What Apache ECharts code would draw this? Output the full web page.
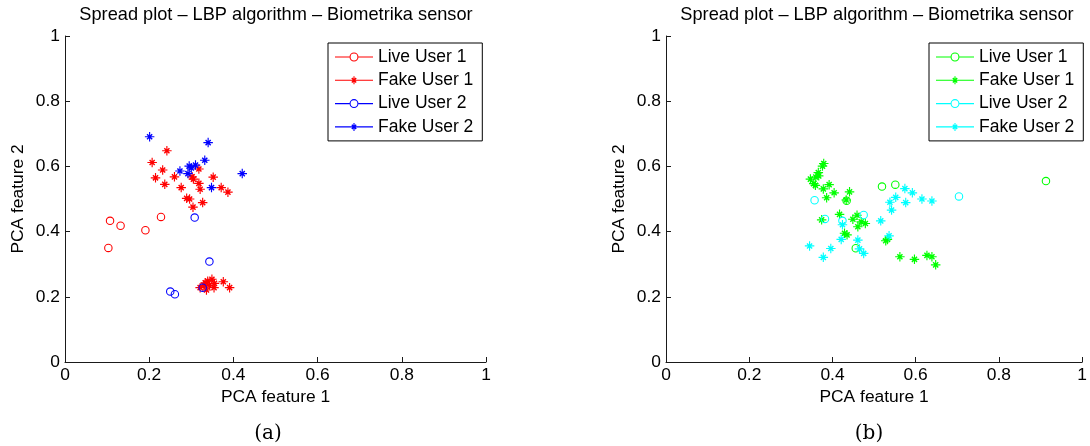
<!DOCTYPE html>
<html><head><meta charset="utf-8">
<script src="https://cdn.jsdelivr.net/npm/echarts@6/dist/echarts.min.js"></script>
<style>html,body{margin:0;padding:0;background:#fff}#c{width:1090px;height:446px}</style>
</head><body><div id="c"></div>
<script>
// ---------- data ----------
const titleText = 'Spread plot \u2013 LBP algorithm \u2013 Biometrika sensor';
const xAxisName = 'PCA feature 1';
const yAxisName = 'PCA feature 2';
const captions = ['(a)', '(b)'];
const seriesNames = ['Live User 1', 'Fake User 1', 'Live User 2', 'Fake User 2'];

// panel (a)
const liveUser1A = [[0.107,0.433],[0.132,0.418],[0.191,0.404],[0.228,0.445],[0.103,0.350]];
const fakeUser1A = [[0.242,0.648],[0.207,0.612],[0.232,0.589],[0.215,0.565],[0.237,0.545],[0.260,0.568],[0.276,0.535],[0.302,0.568],[0.305,0.561],[0.318,0.592],[0.318,0.548],[0.321,0.530],[0.352,0.567],[0.371,0.535],[0.387,0.521],[0.289,0.502],[0.296,0.500],[0.304,0.475],[0.327,0.489],
  [0.333,0.243],[0.339,0.248],[0.349,0.254],[0.355,0.241],[0.321,0.228],[0.336,0.221],[0.354,0.228],[0.376,0.246],[0.391,0.228],[0.330,0.235],[0.343,0.236]];
const liveUser2A = [[0.308,0.443],[0.343,0.308],[0.250,0.216],[0.261,0.208],[0.327,0.228]];
const fakeUser2A = [[0.201,0.691],[0.340,0.673],[0.332,0.619],[0.421,0.578],[0.273,0.586],[0.295,0.601],[0.310,0.604],[0.292,0.578],[0.348,0.535],[0.300,0.595]];

// panel (b)
const liveUser1B = [[0.519,0.538],[0.551,0.544],[0.456,0.349],[0.434,0.495],[0.913,0.555]];
const fakeUser1B = [[0.379,0.609],[0.376,0.601],[0.366,0.581],[0.367,0.571],[0.347,0.561],[0.360,0.567],[0.355,0.547],[0.359,0.542],[0.392,0.544],[0.378,0.531],[0.386,0.504],[0.404,0.519],[0.441,0.522],[0.433,0.497],[0.417,0.453],[0.374,0.436],[0.449,0.438],[0.459,0.450],[0.461,0.415],[0.469,0.430],[0.479,0.425],[0.429,0.395],[0.435,0.390],[0.532,0.376],[0.528,0.372],[0.562,0.323],[0.597,0.315],[0.627,0.327],[0.639,0.323],[0.648,0.298]];
const liveUser2B = [[0.357,0.496],[0.382,0.439],[0.424,0.433],[0.475,0.451],[0.704,0.508]];
const fakeUser2B = [[0.345,0.356],[0.378,0.321],[0.396,0.348],[0.421,0.376],[0.424,0.421],[0.461,0.374],[0.465,0.347],[0.475,0.333],[0.516,0.433],[0.536,0.387],[0.542,0.466],[0.538,0.490],[0.552,0.505],[0.576,0.489],[0.574,0.532],[0.592,0.519],[0.615,0.500],[0.639,0.494]];

const colorsA = ['#ff0000', '#ff0000', '#0000ff', '#0000ff'];
const colorsB = ['#00ff00', '#00ff00', '#00ffff', '#00ffff'];

// ---------- styles ----------
const FONT = 'Liberation Sans';
function starPath(cx, cy, r, rd, t, td) {
  const o = td / Math.SQRT2;
  const f = v => v.toFixed(3);
  let p = `M${f(cx-t)} ${f(cy-r)}H${f(cx+t)}V${f(cy+r)}H${f(cx-t)}Z`;
  p += `M${f(cx-r)} ${f(cy-t)}H${f(cx+r)}V${f(cy+t)}H${f(cx-r)}Z`;
  let ax = cx-rd, ay = cy-rd, bx = cx+rd, by = cy+rd;
  p += `M${f(ax+o)} ${f(ay-o)}L${f(bx+o)} ${f(by-o)}L${f(bx-o)} ${f(by+o)}L${f(ax-o)} ${f(ay+o)}Z`;
  ax = cx+rd; ay = cy-rd; bx = cx-rd; by = cy+rd;
  p += `M${f(ax+o)} ${f(ay+o)}L${f(bx+o)} ${f(by+o)}L${f(bx-o)} ${f(by-o)}L${f(ax-o)} ${f(ay-o)}Z`;
  return p;
}
function ringPath(cx, cy, r, ri) {
  return `M${cx-r} ${cy}A${r} ${r} 0 1 0 ${cx+r} ${cy}A${r} ${r} 0 1 0 ${cx-r} ${cy}Z` +
         `M${cx-ri} ${cy}A${ri} ${ri} 0 1 1 ${cx+ri} ${cy}A${ri} ${ri} 0 1 1 ${cx-ri} ${cy}Z`;
}
const circleSymbol = 'path://' + ringPath(5, 5, 5, 3.75);
const starSymbol = 'path://' + starPath(5, 5, 5, 2.7, 0.6, 0.75);
const circleLegend = 'path://M0 4.45H14.5V5.55H0Z M23.5 4.45H38V5.55H23.5Z ' + ringPath(19, 5, 4.5, 3.4);
const starLegend = 'path://M0 4.45H38V5.55H0Z ' + starPath(19, 5, 4, 2.2, 0.55, 0.7);

function axis(gridIndex, isX) {
  return {
    type: 'value', gridIndex, min: 0, max: 1, interval: 0.2,
    name: isX ? xAxisName : yAxisName,
    nameLocation: 'middle', nameGap: isX ? 27 : 38, nameRotate: isX ? 0 : 90,
    nameTextStyle: { fontFamily: FONT, fontSize: 17.4, color: '#000' },
    axisLine: { show: true, onZero: false, lineStyle: { color: '#1a1a1a', width: 1 } },
    axisTick: { show: true, inside: true, length: 5, lineStyle: { color: '#1a1a1a', width: 1 } },
    axisLabel: { color: '#000', fontFamily: FONT, fontSize: 17.4, margin: 5, showMinLabel: true, showMaxLabel: true },
    splitLine: { show: false }
  };
}

const panels = [
  { data: [liveUser1A, fakeUser1A, liveUser2A, fakeUser2A], colors: colorsA, suffix: '' },
  { data: [liveUser1B, fakeUser1B, liveUser2B, fakeUser2B], colors: colorsB, suffix: ' (b)' }
];
const gridLefts = [65, 666];
const PW = 421;

const series = [];
panels.forEach((p, gi) => {
  p.data.forEach((d, si) => {
    series.push({
      type: 'scatter', name: seriesNames[si] + p.suffix,
      xAxisIndex: gi, yAxisIndex: gi,
      symbol: si % 2 ? starSymbol : circleSymbol,
      symbolSize: si % 2 ? 9.5 : 8.5,
      itemStyle: { color: p.colors[si], opacity: 1 },
      emphasis: { disabled: true },
      silent: true,
      data: d
    });
  });
});

const legends = panels.map((p, gi) => ({
  orient: 'vertical', left: 328 + gi * 601, top: 43,
  data: seriesNames.map((n, i) => ({ name: n + p.suffix, icon: i % 2 ? starLegend : circleLegend })),
  formatter: n => n.replace(' (b)', ''),
  itemWidth: 38, itemHeight: 9, itemGap: 5.3,
  padding: [5, 9, 5, 7],
  borderColor: '#000', borderWidth: 1, borderRadius: 0, backgroundColor: '#fff',
  textStyle: { fontFamily: FONT, fontSize: 17.5, color: '#000' },
  selectedMode: false
}));

const graphics = [];
gridLefts.forEach((gl, i) => {
  graphics.push({ type: 'text', x: gl + PW / 2 + 0.5, y: 15, silent: true,
    style: { text: titleText, fontFamily: FONT, fontSize: 18.2, fill: '#000', align: 'center', verticalAlign: 'middle' } });
  graphics.push({ type: 'text', x: gl + 203, y: 434, silent: true,
    style: { text: captions[i], fontFamily: 'DejaVu Serif', fontSize: 20, fill: '#000', align: 'center', verticalAlign: 'middle' } });
});

const chart = echarts.init(document.getElementById('c'));
chart.setOption({
  animation: false,
  backgroundColor: '#fff',
  grid: gridLefts.map(l => ({ left: l, top: 36, width: PW, height: 326, containLabel: false })),
  xAxis: [axis(0, true), axis(1, true)],
  yAxis: [axis(0, false), axis(1, false)],
  legend: legends,
  graphic: graphics,
  series
});
</script></body></html>
